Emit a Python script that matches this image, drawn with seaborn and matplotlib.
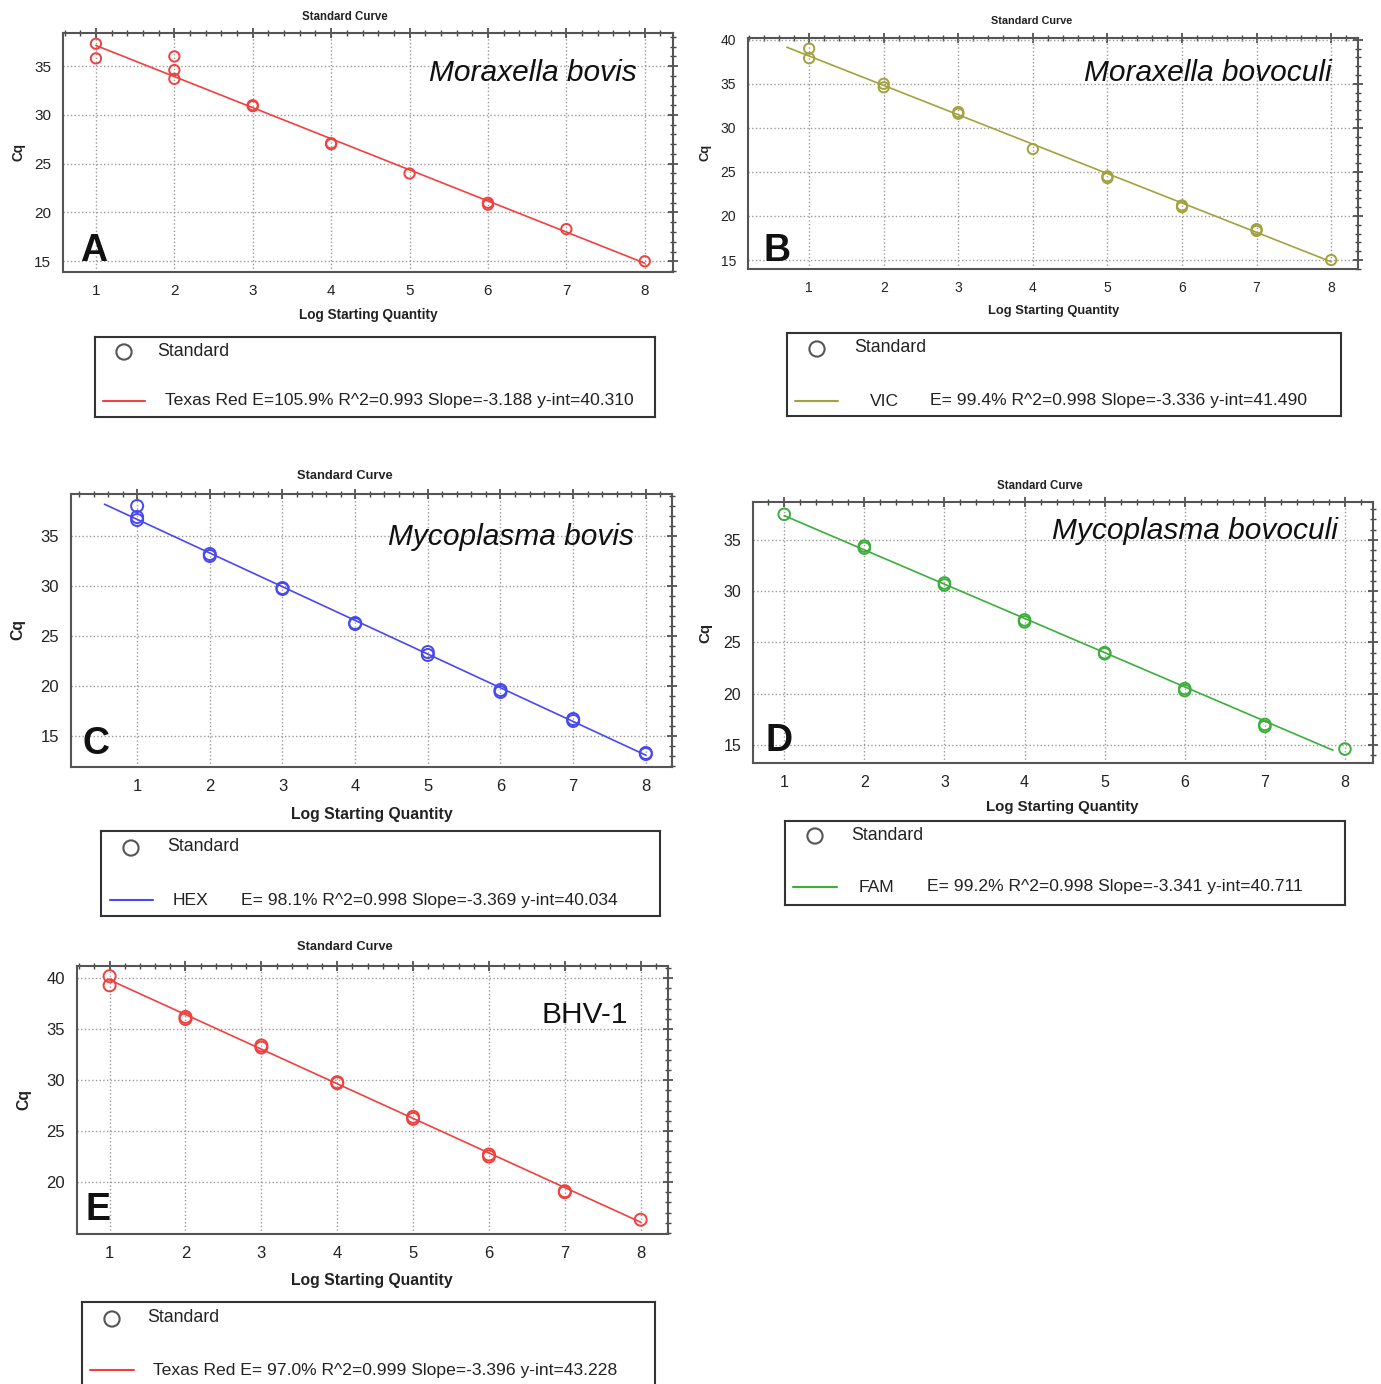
import numpy as np
import pandas as pd
import matplotlib
matplotlib.use('agg')
import matplotlib.pyplot as plt
import seaborn as sns
from matplotlib.ticker import MultipleLocator

sns.set_style("white")
plt.rcParams['font.family'] = ['Liberation Sans', 'DejaVu Sans']

W, H = 1381, 1384

#####################################################
# DATA
qty_a = [1, 1, 2, 2, 2, 3, 3, 4, 4, 5, 6, 6, 7, 8]
cq_a = [37.3, 35.8, 36.0, 34.6, 33.7, 31.0, 30.9, 27.1, 27.0, 24.0, 21.0, 20.8, 18.3, 15.0]

qty_b = [1, 1, 2, 2, 3, 3, 4, 5, 5, 6, 6, 7, 7, 8]
cq_b = [39.0, 37.9, 35.0, 34.6, 31.8, 31.6, 27.6, 24.5, 24.3, 21.2, 21.0, 18.5, 18.3, 15.0]

qty_c = [1, 1, 1, 2, 2, 3, 3, 4, 4, 5, 5, 6, 6, 7, 7, 8, 8]
cq_c = [38.0, 36.9, 36.6, 33.2, 33.0, 29.8, 29.7, 26.3, 26.2, 23.4, 23.1, 19.6, 19.4, 16.7, 16.5, 13.3, 13.2]

qty_d = [1, 2, 2, 3, 3, 4, 4, 5, 5, 6, 6, 7, 7, 8]
cq_d = [37.5, 34.4, 34.2, 30.8, 30.6, 27.2, 27.0, 24.0, 23.9, 20.5, 20.3, 17.0, 16.8, 14.6]

qty_e = [1, 1, 2, 2, 3, 3, 4, 4, 5, 5, 6, 6, 7, 7, 8]
cq_e = [40.2, 39.3, 36.2, 36.0, 33.4, 33.2, 29.8, 29.7, 26.4, 26.2, 22.7, 22.5, 19.1, 19.0, 16.3]

species = ["Moraxella bovis", "Moraxella bovoculi", "Mycoplasma bovis",
           "Mycoplasma bovoculi", "BHV-1"]
letters = ["A", "B", "C", "D", "E"]
dyes = ["Texas Red", "VIC", "HEX", "FAM", "Texas Red"]
stats = ["E=105.9% R^2=0.993 Slope=-3.188 y-int=40.310",
         "E= 99.4% R^2=0.998 Slope=-3.336 y-int=41.490",
         "E= 98.1% R^2=0.998 Slope=-3.369 y-int=40.034",
         "E= 99.2% R^2=0.998 Slope=-3.341 y-int=40.711",
         "E= 97.0% R^2=0.999 Slope=-3.396 y-int=43.228"]
slopes = [-3.188, -3.336, -3.369, -3.341, -3.396]
intercepts = [40.310, 41.490, 40.034, 40.711, 43.228]
fit_start = [1.0, 0.7, 0.55, 1.0, 1.0]
fit_end = [8.0, 8.0, 8.0, 7.85, 8.0]

qtys = [qty_a, qty_b, qty_c, qty_d, qty_e]
cqs = [cq_a, cq_b, cq_c, cq_d, cq_e]

#####################################################
# LAYOUT (pixels)
panels = [
    dict(ax=(63, 33, 673, 272), xlim=(0.58, 8.36), ylim=(13.9, 38.4), yt=(15, 35),
         title=(345, 17, 8.3), xlab=(368, 315, 9.8), ylab=(18, 152), tfs=11, ms=55,
         sp=(637, 73), let=(80, 251), color="#f04040",
         leg=(95, 337, 655, 417), circ=(124, 352), std=(157, 351),
         line=(103, 145, 401), dye=165, stat=None, ital=True),
    dict(ax=(748, 38, 1358, 269), xlim=(0.18, 8.36), ylim=(13.98, 40.2), yt=(15, 40),
         title=(1032, 21, 7.8), xlab=(1054, 311, 9.3), ylab=(706, 152), tfs=10, ms=55,
         sp=(1332, 73), let=(764, 251), color="#a2a23e",
         leg=(787, 333, 1341, 416), circ=(817, 349), std=(854, 347),
         line=(795, 838, 401), dye=870, stat=930, ital=True),
    dict(ax=(71, 494, 672, 767), xlim=(0.09, 8.36), ylim=(11.9, 39.2), yt=(15, 35),
         title=(345, 476, 9.3), xlab=(372, 814, 11.3), ylab=(18, 630), tfs=12, ms=75,
         sp=(634, 537), let=(82, 744), color="#4848f0",
         leg=(101, 831, 660, 916), circ=(131, 848), std=(167, 846),
         line=(110, 153, 900), dye=173, stat=241, ital=True),
    dict(ax=(753, 502, 1373, 763), xlim=(0.61, 8.35), ylim=(13.24, 38.7), yt=(15, 35),
         title=(1040, 486, 8.3), xlab=(1062, 807, 10.8), ylab=(705, 633), tfs=11.5, ms=70,
         sp=(1338, 531), let=(765, 741), color="#3cae3c",
         leg=(785, 821, 1345, 905), circ=(815, 836), std=(851, 835),
         line=(793, 837, 887), dye=859, stat=927, ital=True),
    dict(ax=(77, 966, 668, 1234), xlim=(0.57, 8.36), ylim=(14.9, 41.2), yt=(20, 40),
         title=(345, 947, 9.3), xlab=(372, 1280, 11.3), ylab=(24, 1100), tfs=12, ms=75,
         sp=(628, 1015), let=(85, 1210), color="#f04040",
         leg=(82, 1302, 655, 1394), circ=(112, 1319), std=(147, 1317),
         line=(90, 134, 1370), dye=153, stat=None, ital=False),
]


def rect(l, t, r, b):
    return [l / W, 1 - b / H, (r - l) / W, (b - t) / H]


def fx(x):
    return x / W


def fy(y):
    return 1 - y / H


fig = plt.figure(figsize=(W / 100, H / 100), dpi=100)

for i, p in enumerate(panels):
    ax = fig.add_axes(rect(*p["ax"]))
    df = pd.DataFrame({"qty": qtys[i], "cq": cqs[i]})
    # fitted standard curve from the slope / intercept shown in the legend
    fit = pd.DataFrame({"qty": [fit_start[i], fit_end[i]]})
    fit["cq"] = intercepts[i] + slopes[i] * fit["qty"]

    sns.lineplot(data=fit, x="qty", y="cq", ax=ax, color=p["color"], lw=1.2)
    sns.scatterplot(data=df, x="qty", y="cq", ax=ax, marker="o", s=p["ms"],
                    facecolor="none", edgecolor=p["color"], linewidth=1.4, zorder=3)

    ax.set_xlim(*p["xlim"])
    ax.set_ylim(*p["ylim"])
    ax.set_xticks(range(1, 9))
    ax.set_yticks(range(p["yt"][0], p["yt"][1] + 1, 5))
    ax.xaxis.set_minor_locator(MultipleLocator(0.2))
    ax.yaxis.set_minor_locator(MultipleLocator(1))
    ax.grid(True, which="major", linestyle=":", color="#9a9a9a", linewidth=1)
    ax.set_xlabel("")
    ax.set_ylabel("")
    ax.tick_params(which="major", direction="inout", length=7, width=1.2,
                   color="#444", labelsize=p["tfs"], labelcolor="#222",
                   top=True, right=True, pad=5)
    ax.tick_params(which="minor", direction="inout", length=4, width=1,
                   color="#444", top=True, right=True)
    for s in ax.spines.values():
        s.set_color("#555")
        s.set_linewidth(1.5)

    tx, ty, tfs = p["title"]
    fig.text(fx(tx), fy(ty), "Standard Curve", ha="center", va="center",
             fontsize=tfs, fontweight="bold", color="#222")
    lx, ly, lfs = p["xlab"]
    fig.text(fx(lx), fy(ly), "Log Starting Quantity", ha="center", va="center",
             fontsize=lfs, fontweight="bold", color="#222")
    yx, yy = p["ylab"]
    fig.text(fx(yx), fy(yy), "Cq", ha="center", va="center", rotation=90,
             fontsize=lfs, fontweight="bold", color="#222")

    sx, sy = p["sp"]
    fig.text(fx(sx), fy(sy), species[i], ha="right", va="center", fontsize=21.5,
             fontstyle="italic" if p["ital"] else "normal", color="#111")
    ex, ey = p["let"]
    fig.text(fx(ex), fy(ey), letters[i], ha="left", va="center", fontsize=27,
             fontweight="bold", color="#111")

    # legend box
    x0, y0, x1, y1 = p["leg"]
    lax = fig.add_axes(rect(x0, y0, x1, y1))
    lax.set_xlim(x0, x1)
    lax.set_ylim(y1, y0)
    lax.set_xticks([])
    lax.set_yticks([])
    for s in lax.spines.values():
        s.set_color("#333")
        s.set_linewidth(1.5)
    cx, cy = p["circ"]
    lax.scatter([cx], [cy], s=120, facecolor="none", edgecolor="#555", linewidth=1.5)
    lax.text(p["std"][0], p["std"][1], "Standard", ha="left", va="center",
             fontsize=12.8, color="#222")
    la, lb, lyy = p["line"]
    lax.plot([la, lb], [lyy, lyy], color=p["color"], lw=1.5)
    if p["stat"] is None:
        lax.text(p["dye"], lyy, dyes[i] + " " + stats[i], ha="left", va="center",
                 fontsize=12.6, color="#222")
    else:
        lax.text(p["dye"], lyy, dyes[i], ha="left", va="center",
                 fontsize=12.6, color="#222")
        lax.text(p["stat"], lyy, stats[i], ha="left", va="center",
                 fontsize=12.6, color="#222")

plt.savefig("out.png", dpi=100)
